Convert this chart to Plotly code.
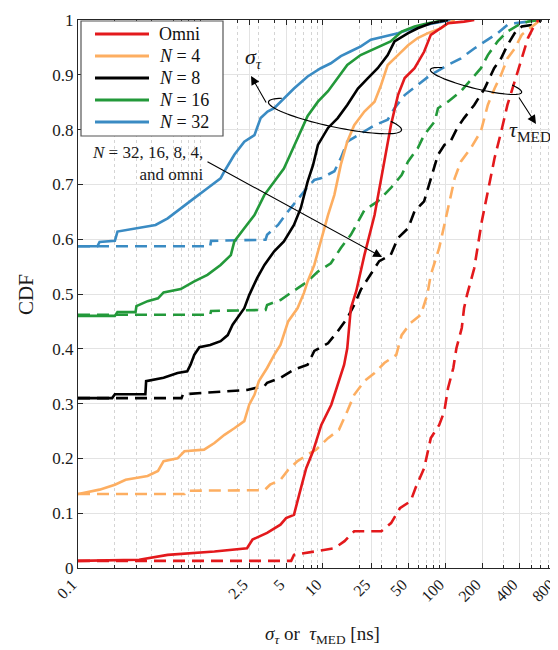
import numpy as np
import plotly.graph_objects as go

# ---------------- data ----------------
labels = ["Omni", "<i>N</i> = 4", "<i>N</i> = 8", "<i>N</i> = 16", "<i>N</i> = 32"]
colors = ["#E3191C", "#FDAE61", "#000000", "#23993A", "#3A8BC3"]

# sigma_tau (solid)
omni_sig_x = [0.1, 0.316, 0.54, 1.3, 2.4, 2.66, 3.5, 4.5, 5.0, 5.8, 6.4, 7.3, 8.3, 9.7, 11.7, 13.2, 14.9, 15.8, 16.9, 18.7, 21.8, 26.4, 31.7, 35.9, 41, 46.5, 56, 67, 76, 92, 105, 142, 172]
omni_sig_y = [0.013, 0.015, 0.024, 0.03, 0.036, 0.052, 0.064, 0.079, 0.091, 0.097, 0.134, 0.182, 0.213, 0.261, 0.298, 0.334, 0.371, 0.401, 0.474, 0.505, 0.571, 0.644, 0.742, 0.808, 0.863, 0.894, 0.912, 0.942, 0.973, 0.985, 0.994, 0.997, 1.0]

n4_sig_x = [0.1, 0.126, 0.15, 0.2, 0.245, 0.37, 0.45, 0.5, 0.65, 0.74, 1.07, 1.3, 1.57, 1.89, 2.28, 2.5, 2.76, 3.0, 3.5, 4.0, 4.5, 5.2, 6.2, 7.0, 7.5, 8.5, 9.6, 11, 12.4, 14, 15.8, 18, 21.8, 26.4, 29.8, 33.8, 41, 49.6, 59.4, 72, 92, 105, 119]
n4_sig_y = [0.135, 0.139, 0.143, 0.152, 0.161, 0.168, 0.177, 0.195, 0.2, 0.213, 0.216, 0.228, 0.243, 0.255, 0.268, 0.298, 0.316, 0.341, 0.365, 0.389, 0.407, 0.45, 0.474, 0.502, 0.523, 0.553, 0.596, 0.644, 0.681, 0.736, 0.778, 0.808, 0.833, 0.851, 0.881, 0.918, 0.936, 0.954, 0.967, 0.976, 0.985, 0.994, 1.0]

n8_sig_x = [0.1, 0.19, 0.2, 0.355, 0.36, 0.5, 0.65, 0.78, 0.83, 0.89, 0.98, 1.2, 1.46, 1.67, 1.83, 2.0, 2.28, 2.5, 2.9, 3.33, 4.0, 4.8, 5.8, 6.6, 7.5, 8.3, 9.1, 11, 13.2, 15.8, 19.3, 23.3, 28, 33.8, 38.4, 49.6, 59.4, 76, 98, 105]
n8_sig_y = [0.31, 0.31, 0.317, 0.317, 0.341, 0.347, 0.356, 0.359, 0.371, 0.389, 0.403, 0.407, 0.414, 0.425, 0.444, 0.456, 0.474, 0.498, 0.529, 0.553, 0.578, 0.596, 0.626, 0.657, 0.705, 0.735, 0.772, 0.803, 0.821, 0.845, 0.875, 0.894, 0.912, 0.936, 0.961, 0.976, 0.985, 0.994, 0.999, 1.0]

n16_sig_x = [0.1, 0.2, 0.21, 0.295, 0.3, 0.37, 0.45, 0.5, 0.69, 0.89, 1.14, 1.46, 1.77, 1.89, 2.28, 2.76, 3.33, 4.0, 4.8, 5.4, 6.2, 7.5, 9.1, 11, 13.2, 15.8, 20.3, 26.4, 35.7, 43.9, 56, 72, 92, 100]
n16_sig_y = [0.46, 0.46, 0.467, 0.467, 0.478, 0.487, 0.492, 0.503, 0.509, 0.523, 0.535, 0.553, 0.571, 0.596, 0.62, 0.644, 0.681, 0.705, 0.729, 0.754, 0.784, 0.825, 0.851, 0.87, 0.894, 0.918, 0.936, 0.948, 0.961, 0.979, 0.988, 0.994, 0.998, 1.0]

n32_sig_x = [0.1, 0.144, 0.15, 0.2, 0.21, 0.31, 0.43, 0.54, 0.69, 0.89, 1.14, 1.46, 1.57, 1.89, 2.28, 2.76, 3.1, 3.53, 4.0, 4.8, 5.8, 7.5, 9.6, 11.6, 14, 16.9, 20.4, 24.6, 31.7, 41, 49.6, 68, 98, 110]
n32_sig_y = [0.587, 0.587, 0.595, 0.597, 0.614, 0.62, 0.626, 0.638, 0.657, 0.675, 0.693, 0.711, 0.724, 0.754, 0.778, 0.79, 0.821, 0.833, 0.839, 0.857, 0.875, 0.897, 0.912, 0.921, 0.934, 0.943, 0.952, 0.964, 0.97, 0.976, 0.982, 0.991, 0.998, 1.0]

# tau_MED (dashed)
omni_med_x = [0.1, 5.5, 5.8, 8.5, 12.4, 15, 18, 30, 36, 42.5, 52, 57, 67, 76, 89, 98, 105, 116, 123, 136, 142, 150, 172, 198, 222, 252, 286, 321, 368, 420, 472, 535, 573]
omni_med_y = [0.013, 0.013, 0.024, 0.03, 0.036, 0.049, 0.067, 0.067, 0.082, 0.109, 0.122, 0.146, 0.182, 0.237, 0.261, 0.286, 0.328, 0.365, 0.401, 0.438, 0.474, 0.498, 0.547, 0.632, 0.687, 0.748, 0.797, 0.845, 0.888, 0.93, 0.967, 0.991, 1.0]

n4_med_x = [0.1, 0.74, 0.76, 3.33, 3.7, 4.5, 5.2, 6.2, 7.5, 8.8, 11, 13.5, 15.8, 18, 21.8, 26.4, 31.7, 39.7, 43.9, 52, 63, 67, 71, 76, 89, 98, 110, 119, 134, 161, 195, 222, 252, 285, 321, 368, 420, 505, 573, 610]
n4_med_y = [0.135, 0.135, 0.141, 0.142, 0.152, 0.161, 0.179, 0.195, 0.207, 0.216, 0.237, 0.252, 0.286, 0.316, 0.341, 0.356, 0.374, 0.389, 0.425, 0.447, 0.462, 0.48, 0.498, 0.535, 0.584, 0.626, 0.675, 0.711, 0.742, 0.766, 0.797, 0.845, 0.875, 0.9, 0.93, 0.948, 0.973, 0.988, 0.997, 1.0]

n8_med_x = [0.1, 0.7, 0.72, 2.4, 3.33, 3.5, 4.5, 5.8, 7.5, 8.5, 11, 13.2, 15.8, 18, 20.4, 28.8, 35.7, 41, 49.6, 56, 67, 76, 87, 98, 110, 125, 142, 172, 209, 236, 250, 285, 321, 368, 420, 505, 610]
n8_med_y = [0.31, 0.31, 0.317, 0.325, 0.332, 0.338, 0.347, 0.362, 0.371, 0.396, 0.41, 0.432, 0.456, 0.48, 0.508, 0.56, 0.571, 0.602, 0.62, 0.651, 0.669, 0.711, 0.754, 0.772, 0.778, 0.803, 0.821, 0.845, 0.875, 0.9, 0.912, 0.93, 0.954, 0.976, 0.988, 0.991, 1.0]

n16_med_x = [0.1, 1.2, 1.22, 3.4, 3.5, 4.5, 5.8, 7.5, 9.1, 11.6, 14, 16.9, 21.8, 28, 35.7, 43.9, 49.6, 59.4, 67, 81.9, 87, 105, 134, 161, 195, 222, 267, 321, 395, 472, 573]
n16_med_y = [0.462, 0.462, 0.469, 0.471, 0.48, 0.489, 0.506, 0.523, 0.541, 0.556, 0.584, 0.608, 0.653, 0.669, 0.693, 0.717, 0.742, 0.766, 0.79, 0.815, 0.839, 0.851, 0.87, 0.891, 0.912, 0.936, 0.961, 0.979, 0.991, 0.997, 1.0]

n32_med_x = [0.1, 1.2, 1.22, 3.4, 3.5, 4.3, 5.2, 6.6, 7.5, 8.5, 9.6, 12.4, 14, 15.8, 19.3, 26.4, 33.8, 38.4, 46.5, 59.4, 75.9, 105, 134, 172, 209, 267, 321, 368, 472, 573]
n32_med_y = [0.587, 0.587, 0.597, 0.599, 0.608, 0.626, 0.651, 0.68, 0.695, 0.708, 0.711, 0.724, 0.748, 0.778, 0.79, 0.808, 0.818, 0.839, 0.863, 0.881, 0.9, 0.918, 0.93, 0.948, 0.961, 0.976, 0.991, 0.994, 0.997, 1.0]

x_tickvals = [0.1, 2.5, 5, 10, 25, 50, 100, 200, 400, 800]
x_ticktext = ["0.1", "2.5", "5", "10", "25", "50", "100", "200", "400", "800"]
y_tickvals = [0, 0.1, 0.2, 0.3, 0.4, 0.5, 0.6, 0.7, 0.8, 0.9, 1]
y_ticktext = ["0", "0.1", "0.2", "0.3", "0.4", "0.5", "0.6", "0.7", "0.8", "0.9", "1"]
x_minorvals = [0.2, 0.3, 0.4, 0.6, 0.7, 0.8, 0.9, 1, 2, 3, 4, 6, 7, 8, 9,
               20, 30, 40, 60, 70, 80, 90, 300, 500, 600, 700]

sig_series = [(omni_sig_x, omni_sig_y), (n4_sig_x, n4_sig_y), (n8_sig_x, n8_sig_y),
              (n16_sig_x, n16_sig_y), (n32_sig_x, n32_sig_y)]
med_series = [(omni_med_x, omni_med_y), (n4_med_x, n4_med_y), (n8_med_x, n8_med_y),
              (n16_med_x, n16_med_y), (n32_med_x, n32_med_y)]

# ---------------- figure ----------------
FONT = "Liberation Serif, Times New Roman, serif"
W, H = 558, 650
ML, MR, MT, MB = 70, 10, 12, 90
PW, PH = W - ML - MR, H - MT - MB
TXT = "#1a1a1a"

def px(xp, yp):
    """pixel position in the page -> paper coordinates (for decorations)"""
    return (xp - ML) / PW, (H - MB - yp) / PH

fig = go.Figure()
order = [4, 3, 2, 1, 0]
for i in order:
    mx, my = med_series[i]
    fig.add_trace(go.Scatter(x=mx, y=my, mode="lines", showlegend=False,
                             line=dict(color=colors[i], width=2.6, dash="12px,7px"),
                             hoverinfo="skip"))
for i in order:
    sx, sy = sig_series[i]
    fig.add_trace(go.Scatter(x=sx, y=sy, mode="lines", name=labels[i], showlegend=False,
                             line=dict(color=colors[i], width=2.6),
                             hoverinfo="skip"))

fig.update_layout(
    width=W, height=H,
    margin=dict(l=ML, r=MR, t=MT, b=MB, autoexpand=False),
    paper_bgcolor="white", plot_bgcolor="white",
    font=dict(family=FONT, size=16, color=TXT),
    showlegend=False,
)
fig.update_xaxes(
    type="log", range=[-1, np.log10(800)], automargin=False,
    tickmode="array", tickvals=x_tickvals, ticktext=x_ticktext, tickangle=-45,
    ticklabelshift=-6,
    tickfont=dict(family=FONT, size=16, color=TXT),
    showgrid=True, gridcolor="#e3e3e3", gridwidth=1,
    ticks="inside", ticklen=5, tickcolor="#262626",
    showline=True, linecolor="#262626", linewidth=1, mirror="ticks",
    minor=dict(tickmode="array", tickvals=x_minorvals, ticks="inside", ticklen=3,
               tickcolor="#262626", showgrid=True, gridcolor="#d4d4d4",
               griddash="dot", gridwidth=1),
    zeroline=False,
)
fig.update_yaxes(
    range=[0, 1], automargin=False, tickmode="array", tickvals=y_tickvals, ticktext=y_ticktext,
    tickfont=dict(family=FONT, size=17, color=TXT),
    showgrid=True, gridcolor="#e3e3e3", gridwidth=1,
    ticks="inside", ticklen=5, tickcolor="#262626",
    showline=True, linecolor="#262626", linewidth=1, mirror="ticks",
    zeroline=False,
)

# ---------------- decorations: lasso ellipses and arrows ----------------
def ellipse_path(cx, cy, a, b, tilt_deg, t0, t1, n=60):
    th = np.radians(tilt_deg)
    ts = np.radians(np.linspace(t0, t1, n))
    pts = []
    for t in ts:
        xp = cx + a * np.cos(t) * np.cos(th) - b * np.sin(t) * np.sin(th)
        yp = cy + a * np.cos(t) * np.sin(th) + b * np.sin(t) * np.cos(th)
        pts.append(px(xp, yp))
    return "M " + " L ".join(f"{u:.5f},{v:.5f}" for u, v in pts)

fig.add_shape(type="path", xref="paper", yref="paper",
              path=ellipse_path(327, 108, 68, 11, 12, 215, -35),
              line=dict(color="black", width=1.2))
fig.add_shape(type="path", xref="paper", yref="paper",
              path=ellipse_path(468, 73, 47, 7.5, 14, 220, -40),
              line=dict(color="black", width=1.2))

def arrow(head, tail):
    hx, hy = px(*head)
    fig.add_annotation(x=hx, y=hy, xref="paper", yref="paper", text="",
                       showarrow=True, arrowhead=2, arrowsize=1.6, arrowwidth=1.1,
                       arrowcolor="black", ax=tail[0] - head[0], ay=tail[1] - head[1],
                       standoff=0, startstandoff=0)

arrow((243, 68), (259, 96))
arrow((528, 116), (510, 88))
arrow((374, 249), (198, 153))

def label(text, xy, size=20, align="center", xanchor="center", textangle=0, color=TXT):
    u, v = px(*xy)
    fig.add_annotation(x=u, y=v, xref="paper", yref="paper", text=text,
                       showarrow=False, align=align, xanchor=xanchor, yanchor="middle",
                       textangle=textangle,
                       font=dict(family=FONT, size=size, color=color))

label("<i>σ</i><sub><i>τ</i></sub>", (245, 50), size=22)
label("<i>τ</i><sub>MED</sub>", (522, 123), size=22)
label("<i>N</i> = 32, 16, 8, 4,<br>and omni", (197, 155), size=17, align="right", xanchor="right")
# axis titles
label("<i>σ</i><sub><i>τ</i></sub> or  <i>τ</i><sub>MED</sub> [ns]", (314, 627), size=19)
label("CDF", (18, 287), size=21, textangle=-90)

# ---------------- legend (drawn as a boxed key) ----------------
x0, y0 = px(73, 13)
x1, y1 = px(215, 128)
fig.add_shape(type="rect", xref="paper", yref="paper", x0=x0, y0=y0, x1=x1, y1=y1,
              fillcolor="white", line=dict(color="#555555", width=1.2), layer="above")
row_y = [26, 48, 70, 92, 114]
for i in range(5):
    lx0, ly = px(87, row_y[i])
    lx1, _ = px(141, row_y[i])
    fig.add_shape(type="line", xref="paper", yref="paper", x0=lx0, x1=lx1, y0=ly, y1=ly,
                  line=dict(color=colors[i], width=2.8), layer="above")
    u, v = px(149, row_y[i])
    fig.add_annotation(x=u, y=v, xref="paper", yref="paper", text=labels[i],
                       showarrow=False, xanchor="left", yanchor="middle",
                       font=dict(family=FONT, size=18, color="#111111"))

fig.write_html("out.html")
